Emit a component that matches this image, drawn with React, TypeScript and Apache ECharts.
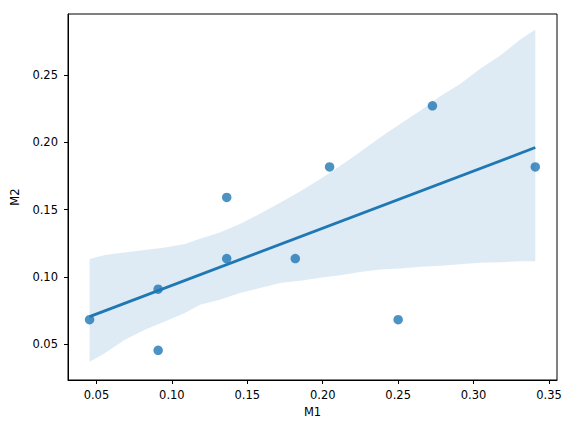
import React, { useEffect, useRef } from "react";
import * as echarts from "echarts";

// Scatter observations (M1, M2)
const m1Values = [0.04545, 0.09091, 0.09091, 0.13636, 0.13636, 0.18182, 0.20455, 0.25, 0.27273, 0.34091];
const m2Values = [0.06818, 0.09091, 0.04545, 0.15909, 0.11364, 0.11364, 0.18182, 0.06818, 0.22727, 0.18182];

// Regression line end points
const fitX = [0.04545, 0.34091];
const fitY = [0.0705, 0.1962];

// Confidence band
const bandX = [0.04545, 0.0555, 0.0688, 0.0821, 0.0953, 0.1086, 0.1186, 0.1318, 0.1451, 0.1584, 0.1717, 0.1849,
  0.1982, 0.2115, 0.2248, 0.238, 0.2513, 0.2646, 0.2779, 0.2911, 0.3044, 0.3177, 0.331, 0.34091];
const bandUpper = [0.1134, 0.1163, 0.1181, 0.12, 0.1219, 0.1245, 0.1284, 0.1331, 0.1393, 0.1469, 0.1552, 0.1635,
  0.1726, 0.1825, 0.1928, 0.2037, 0.2137, 0.2236, 0.2343, 0.2435, 0.2547, 0.2646, 0.2766, 0.284];
const bandLower = [0.037, 0.0433, 0.0532, 0.0607, 0.0669, 0.0731, 0.0793, 0.0831, 0.0881, 0.0918, 0.0955, 0.0972,
  0.0993, 0.1012, 0.1037, 0.1055, 0.1062, 0.1075, 0.1084, 0.1095, 0.1105, 0.111, 0.1116, 0.1116];

// Axis ticks
const xTicks = [0.05, 0.1, 0.15, 0.2, 0.25, 0.3, 0.35];
const yTicks = [0.05, 0.1, 0.15, 0.2, 0.25];
const xRange = [0.03115, 0.3553];
const yRange = [0.02336, 0.2955];

const FONT = "DejaVu Sans";
const BLUE = "#1f77b4";

export default function App() {
  const ref = useRef<HTMLDivElement>(null);
  useEffect(() => {
    if (!ref.current) return;
    const chart = echarts.init(ref.current, null, { renderer: "svg" });
    const scatterData = m1Values.map((x, i) => [x, m2Values[i]]);
    const lineData = fitX.map((x, i) => [x, fitY[i]]);
    const bandData = bandX.map((x, i) => [x, bandUpper[i], bandLower[i]]);
    const axisCommon = {
      type: "value" as const,
      splitLine: { show: false },
      axisLine: { show: true, lineStyle: { color: "#000", width: 1 } },
      axisTick: { show: true, length: 4, lineStyle: { color: "#000", width: 1 } },
      nameTextStyle: { fontFamily: FONT, fontSize: 11.5, color: "#000" },
    };
    chart.setOption({
      animation: false,
      backgroundColor: "#fff",
      grid: {
        left: 68,
        top: 14,
        right: 19,
        bottom: 52,
        containLabel: false,
        show: true,
        borderColor: "#000",
        borderWidth: 1,
        backgroundColor: "transparent",
      },
      xAxis: {
        ...axisCommon,
        min: xRange[0],
        max: xRange[1],
        name: "M1",
        nameLocation: "middle",
        nameGap: 26,
        axisTick: { ...axisCommon.axisTick, customValues: xTicks },
        axisLabel: {
          customValues: xTicks,
          formatter: (v: number) => v.toFixed(2),
          fontFamily: FONT,
          fontSize: 11.5,
          color: "#000",
          margin: 9,
        },
      },
      yAxis: {
        ...axisCommon,
        min: yRange[0],
        max: yRange[1],
        name: "M2",
        nameLocation: "middle",
        nameGap: 40,
        axisTick: { ...axisCommon.axisTick, customValues: yTicks },
        axisLabel: {
          customValues: yTicks,
          formatter: (v: number) => v.toFixed(2),
          fontFamily: FONT,
          fontSize: 11.5,
          color: "#000",
          margin: 10,
        },
      },
      series: [
        {
          type: "custom",
          data: bandData,
          clip: true,
          silent: true,
          z: 1,
          renderItem: (params: any, api: any) => {
            if (params.dataIndex !== 0) return null;
            const upper = bandX.map((x, i) => api.coord([x, bandUpper[i]]));
            const lower = bandX.map((x, i) => api.coord([x, bandLower[i]])).reverse();
            return {
              type: "polygon",
              shape: { points: upper.concat(lower) },
              style: { fill: BLUE, opacity: 0.15, stroke: "none" },
            };
          },
          encode: { x: 0, y: [1, 2] },
        },
        {
          type: "scatter",
          data: scatterData,
          symbol: "circle",
          symbolSize: 9.5,
          itemStyle: { color: BLUE, opacity: 0.8 },
          z: 3,
        },
        {
          type: "line",
          data: lineData,
          showSymbol: false,
          lineStyle: { color: BLUE, width: 2.8 },
          z: 4,
        },
      ],
    });
    return () => chart.dispose();
  }, []);
  return (
    <div
      ref={ref}
      style={{ position: "fixed", left: 0, top: 0, width: 576, height: 432 }}
    />
  );
}
